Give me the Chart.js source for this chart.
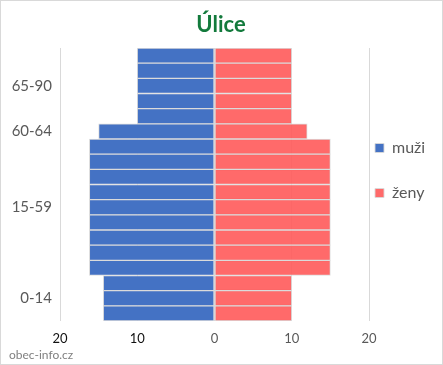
<!DOCTYPE html>
<html lang="cs">
<head>
  <meta charset="UTF-8">
  <title>Úlice</title>
  <style>
    body { margin: 0; padding: 0; background: #fff; }
    .wrap {
      width: 443px;
      height: 365px;
      box-sizing: border-box;
      border: 1px solid #d9d9d9;
    }
  </style>
</head>
<body>
  <div class="wrap"><canvas id="pyramid" width="441" height="363"></canvas></div>

  <script src="https://cdn.jsdelivr.net/npm/chart.js"></script>
  <script>
    // rows top to bottom, only the middle row of each age group carries a label
    const rowLabels = ['', '', '65-90', '', '', '60-64', '', '', '', '', '15-59', '', '', '', '', '', '0-14', ''];
    const muzi = [10, 10, 10, 10, 10, 15, 16.2, 16.2, 16.2, 16.2, 16.2, 16.2, 16.2, 16.2, 16.2, 14.4, 14.4, 14.4];
    const zeny = [10, 10, 10, 10, 10, 12, 15, 15, 15, 15, 15, 15, 15, 15, 15, 10, 10, 10];
    const seriesNames = ['muži', 'ženy'];

    const font = 'Lato, "Open Sans", sans-serif';

    // nudge the legend into place (Excel puts it closer to the plot)
    const legendShift = {
      id: 'legendShift',
      afterLayout(chart) {
        const lg = chart.legend;
        lg.left -= 23;
        lg.top -= 12; lg.bottom -= 12;
      }
    };

    new Chart(document.getElementById('pyramid'), {
      type: 'bar',
      data: {
        labels: rowLabels,
        datasets: [{
          label: seriesNames[0],
          data: muzi.map(v => -v),
          backgroundColor: '#4472C4',
          borderColor: 'rgba(217,217,217,0.9)',
          borderWidth: 1,
          borderSkipped: false
        }, {
          label: seriesNames[1],
          data: zeny,
          backgroundColor: 'rgba(255,90,90,0.9)',
          borderColor: 'rgba(217,217,217,0.9)',
          borderWidth: 1,
          borderSkipped: false
        }]
      },
      options: {
        indexAxis: 'y',
        responsive: false,
        animation: false,
        layout: { padding: { left: 8, right: 9 } },
        datasets: { bar: { barPercentage: 1, categoryPercentage: 1 } },
        scales: {
          x: {
            stacked: true,
            min: -20, max: 20,
            grid: { color: '#d9d9d9', drawTicks: false },
            border: { display: false },
            ticks: {
              stepSize: 10,
              padding: 10,
              font: { family: font, size: 13 },
              color: c => c.tick.value < 0 ? '#111' : '#595959',
              callback: v => Math.abs(v)
            },
            afterFit: s => { s.height = 26.6; }
          },
          y: {
            stacked: true,
            grid: { display: false, drawTicks: false },
            border: { display: false },
            ticks: {
              autoSkip: false,
              padding: 8,
              font: { family: font, size: 15 },
              color: '#595959'
            },
            afterFit: s => { s.width = 51; }
          }
        },
        plugins: {
          title: {
            display: true,
            text: 'Úlice',
            color: '#137a3c',
            font: { family: font, size: 22, weight: 'bold' },
            padding: { top: 11, bottom: 9.6 }
          },
          subtitle: {
            display: true,
            text: 'obec-info.cz',
            position: 'bottom',
            align: 'start',
            color: '#808080',
            font: { family: font, size: 12 },
            padding: { top: 0, bottom: 2 }
          },
          legend: {
            position: 'right',
            maxWidth: 64,
            labels: {
              boxWidth: 9,
              boxHeight: 9,
              padding: 29,
              color: '#595959',
              font: { family: font, size: 16 }
            }
          },
          tooltip: { enabled: false }
        }
      },
      plugins: [legendShift]
    });
  </script>
</body>
</html>
